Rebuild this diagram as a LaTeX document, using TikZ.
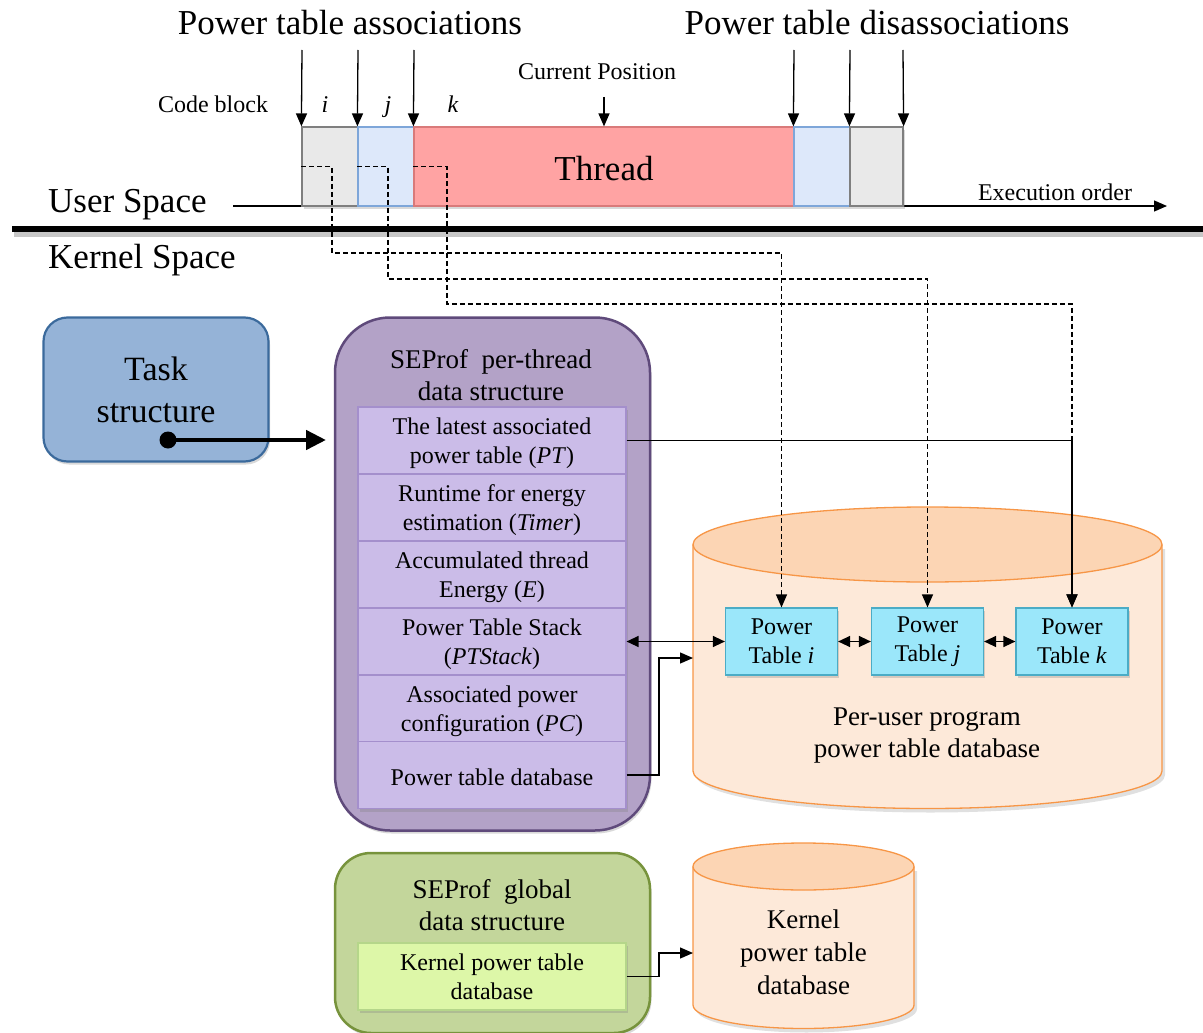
\documentclass[tikz,border=0pt]{standalone}
\usepackage{fontspec}
\setmainfont{Liberation Serif}
\usetikzlibrary{arrows.meta,shadows}

% font sizes (picture unit is 1pt)
\newcommand\szL{\fontsize{35}{42}\selectfont}
\newcommand\szT{\fontsize{34}{42}\selectfont}
\newcommand\szM{\fontsize{27}{32}\selectfont}
\newcommand\szS{\fontsize{24}{29}\selectfont}

\definecolor{blkgray}{HTML}{E9E9E9}
\definecolor{blkgrayline}{HTML}{7F7F7F}
\definecolor{blkblue}{HTML}{DDE8FA}
\definecolor{blkblueline}{HTML}{7EA6D9}
\definecolor{thrfill}{HTML}{FFA3A3}
\definecolor{thrline}{HTML}{D97A7A}
\definecolor{taskfill}{HTML}{95B3D7}
\definecolor{taskline}{HTML}{3B6A9C}
\definecolor{purfill}{HTML}{B3A2C7}
\definecolor{purline}{HTML}{5F4A7B}
\definecolor{rowfill}{HTML}{CBBCE8}
\definecolor{rowline}{HTML}{A48FCC}
\definecolor{ptfill}{HTML}{9BE7FA}
\definecolor{ptline}{HTML}{4BACC6}
\definecolor{cylbody}{HTML}{FDE9D9}
\definecolor{cyltop}{HTML}{FCD5B4}
\definecolor{cylline}{HTML}{F79646}
\definecolor{grnfill}{HTML}{C3D69B}
\definecolor{grnline}{HTML}{77933C}
\definecolor{grninner}{HTML}{DDF7A8}
\definecolor{grninnerline}{HTML}{B5D68A}

\tikzset{
  conn/.style={line width=1.3pt, -{Triangle[length=13pt,width=11pt]}},
  biconn/.style={line width=1.3pt, {Triangle[length=12pt,width=11pt]}-{Triangle[length=12pt,width=11pt]}},
  dconn/.style={line width=1.2pt, dash pattern=on 5pt off 3pt, -{Triangle[length=13pt,width=11pt]}},
  softshadow/.style={drop shadow={shadow xshift=1.5pt, shadow yshift=-3pt, opacity=0.3}},
  codeblk/.style={draw, line width=1.2pt, minimum height=79pt, inner sep=0pt, softshadow},
  rowbox/.style={draw=rowline, fill=rowfill, line width=1.2pt, minimum width=268pt, minimum height=67pt,
                 inner sep=0pt, align=center, font=\szS, softshadow},
  rowtext/.style={inner sep=0pt, align=center, font=\szS},
  ptbox/.style={draw=ptline, fill=ptfill, line width=1.2pt, minimum width=112pt, minimum height=67pt,
                inner sep=0pt, align=center, font=\szS, softshadow},
  lbl/.style={inner sep=0pt, anchor=base},
}

\begin{document}
\begin{tikzpicture}[x=1pt, y=-1pt]
\useasboundingbox (0,0) rectangle (1203,1033);

% ---------- user space: code blocks along the execution order ----------
\node[lbl, font=\szL] (assoc) at (350,35) {Power table associations};
\node[lbl, font=\szL] (disassoc) at (877,35) {Power table disassociations};
\node[lbl, font=\szS] (cpos) at (597,80) {Current Position};
\node[lbl, font=\szS] (cblock) at (213,113) {Code block};
\node[lbl, font=\szS\itshape] (li) at (325,113) {i};
\node[lbl, font=\szS\itshape] (lj) at (388,113) {j};
\node[lbl, font=\szS\itshape] (lk) at (453,113) {k};

\coordinate (eos) at (233,206);
\coordinate (eoe) at (1167,206);
\draw[conn] (eos) -- (eoe);
\node[lbl, font=\szS] (eolabel) at (1055,200) {Execution order};

\node[codeblk, fill=blkgray, draw=blkgrayline, minimum width=56pt] (bi) at (330,166.5) {};
\node[codeblk, fill=blkblue, draw=blkblueline, minimum width=56pt] (bj) at (386,166.5) {};
\node[codeblk, fill=thrfill, draw=thrline, minimum width=380pt] (thr) at (604,166.5) {};
\node[codeblk, fill=blkblue, draw=blkblueline, minimum width=56pt] (bj2) at (822,166.5) {};
\node[codeblk, fill=blkgray, draw=blkgrayline, minimum width=53pt] (bi2) at (876.5,166.5) {};
\node[lbl, font=\szL] (thrtext) at (604,180) {Thread};

% association / disassociation markers
\coordinate (a1) at (302,50);
\coordinate (a2) at (358,50);
\coordinate (a3) at (414,50);
\coordinate (d1) at (794,50);
\coordinate (d2) at (850,50);
\coordinate (d3) at (903,50);
\draw[conn] (a1) -- (bi.north west);
\draw[conn] (a2) -- (bj.north west);
\draw[conn] (a3) -- (thr.north west);
\draw[conn] (d1) -- (bj2.north west);
\draw[conn] (d2) -- (bi2.north west);
\draw[conn] (d3) -- (bi2.north east);
\coordinate (cp) at (604,97);
\draw[conn] (cp) -- (thr.north);

% ---------- user / kernel boundary ----------
\node[lbl, font=\szL, anchor=base west] (uspace) at (48,212) {User Space};
\node[lbl, font=\szL, anchor=base west] (kspace) at (48,268) {Kernel Space};
\draw[line width=6pt, black!22] (14,234) -- (1203,234);
\draw[line width=6pt] (12,229) -- (1203,229);

% ---------- task structure ----------
\node[draw=taskline, fill=taskfill, line width=2.2pt, rounded corners=24pt, minimum width=225pt,
      minimum height=144pt, softshadow] (task) at (156,389.5) {};
\node[font=\szT, align=center, inner sep=0pt] (tasktext) at (156,390) {Task\\structure};

% ---------- per-thread data structure ----------
\node[draw=purline, fill=purfill, line width=2.5pt, rounded corners=55pt, minimum width=315pt,
      minimum height=513pt, softshadow] (perthread) at (492.5,574) {};
\node[font=\szM, align=center, inner sep=0pt] (pttitle) at (491,375) {SEProf\ \ per-thread\\data structure};

\node[rowbox] (r1) at (492,440.5) {};
\node[rowbox] (r2) at (492,507.5) {};
\node[rowbox] (r3) at (492,574.5) {};
\node[rowbox] (r4) at (492,641.5) {};
\node[rowbox] (r5) at (492,708.5) {};
\node[rowbox] (r6) at (492,775) {};
\node[rowtext] (r1t) at (492,443) {The latest associated\\power table (\textit{PT})};
\node[rowtext] (r2t) at (492,510) {Runtime for energy\\estimation (\textit{Timer})};
\node[rowtext] (r3t) at (492,577) {Accumulated thread\\Energy (\textit{E})};
\node[rowtext] (r4t) at (492,644) {Power Table Stack\\(\textit{PTStack})};
\node[rowtext] (r5t) at (492,711) {Associated power\\configuration (\textit{PC})};
\node[rowtext] (r6t) at (492,777) {Power table database};

\coordinate (tdot) at (168,440);
\coordinate (tend) at (326,440);
\fill (tdot) circle (8.5pt);
\draw[line width=4.5pt, -{Triangle[length=20pt,width=19pt]}] (tdot) -- (tend);

% ---------- per-user program power table database ----------
\fill[black, opacity=0.12] (696,549) -- (696,775) arc[start angle=180, end angle=360, x radius=234.5pt, y radius=37.5pt] -- (1165,549) -- cycle;
\draw[cylline, fill=cylbody, line width=1.3pt] (693,544.5) -- (693,771)
   arc[start angle=180, end angle=360, x radius=234.5pt, y radius=37.5pt] -- (1162,544.5);
\draw[cylline, fill=cyltop, line width=1.3pt] (927.5,544.5) ellipse[x radius=234.5pt, y radius=37.5pt];
\node[font=\szM, align=center, inner sep=0pt] (udbtext) at (927,736) {Per-user program\\power table database};

\node[ptbox] (pti) at (781.5,641.5) {Power\\Table \textit{i}};
\node[ptbox] (ptj) at (927.5,641.5) {Power\\Table \textit{j}};
\node[ptbox] (ptk) at (1072,641.5) {Power\\Table \textit{k}};

\draw[biconn] (pti) -- (ptj);
\draw[biconn] (ptj) -- (ptk);
\draw[biconn] (r4.east) -- (pti.west);

\coordinate (udbin) at (693,658);
\draw[conn] (r6.east) -- (659,775) -- (659,658) -- (udbin);

\draw[conn] (r1.east) -- (r1.east -| ptk.north) -- (ptk.north);

% power table associations reaching the database
\draw[dconn] (bi.west) -- (332,166.5) -- (332,253) -- (pti.north |- 0,253) -- (pti.north);
\draw[dconn] (bj.west) -- (388,166.5) -- (388,279) -- (ptj.north |- 0,279) -- (ptj.north);
\draw[dconn] (thr.west) -- (447,166.5) -- (447,304) -- (ptk.north |- 0,304) -- (ptk.north);

% ---------- global data structure ----------
\node[draw=grnline, fill=grnfill, line width=2.5pt, rounded corners=36pt, minimum width=315pt,
      minimum height=180pt, softshadow] (global) at (492.5,943) {};
\node[font=\szM, align=center, inner sep=0pt] (gtitle) at (492,905) {SEProf\ \ global\\data structure};
\node[rowbox, draw=grninnerline, fill=grninner] (kdb) at (492,976.5) {Kernel power table\\database};

% kernel power table database
\fill[black, opacity=0.12] (696,871) -- (696,1009) arc[start angle=180, end angle=360, x radius=110.5pt, y radius=23.5pt] -- (917,871) -- cycle;
\draw[cylline, fill=cylbody, line width=1.3pt] (693,866.5) -- (693,1005)
   arc[start angle=180, end angle=360, x radius=110.5pt, y radius=23.5pt] -- (914,866.5);
\draw[cylline, fill=cyltop, line width=1.3pt] (803.5,866.5) ellipse[x radius=110.5pt, y radius=23.5pt];
\node[font=\szM, align=center, inner sep=0pt, execute at begin node=\setlength{\baselineskip}{33pt}] (kdbtext) at (803.5,952) {Kernel\\power table\\database};

\coordinate (kdbin) at (693,953);
\draw[conn] (kdb.east) -- (659,976.5) -- (659,953) -- (kdbin);

\end{tikzpicture}
\end{document}
